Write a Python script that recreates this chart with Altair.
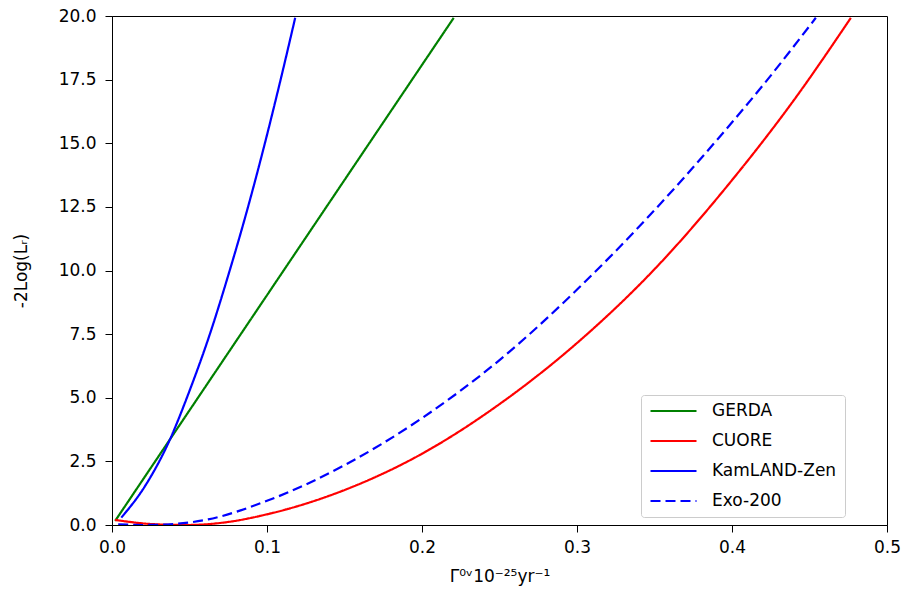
import altair as alt
import pandas as pd

series_names = ["GERDA", "CUORE", "KamLAND-Zen", "Exo-200"]
series_colors = ["#008000", "#ff0000", "#0000ff", "#0000ff"]
series_dash = [[1, 0], [1, 0], [1, 0], [10, 5]]

gerda_x = [0.002, 0.060, 0.120, 0.180, 0.2205]
gerda_y = [0.16, 5.41, 10.84, 16.27, 19.93]

cuore_x = [0.002, 0.025, 0.048, 0.075, 0.100, 0.149, 0.200, 0.250, 0.300, 0.350, 0.400, 0.440, 0.4767]
cuore_y = [0.20, 0.04, 0.00, 0.12, 0.42, 1.35, 2.80, 4.75, 7.15, 10.05, 13.55, 16.70, 19.93]

kamland_x = [0.006, 0.021, 0.0364, 0.050, 0.0633, 0.0752, 0.0865, 0.0978, 0.108, 0.1182]
kamland_y = [0.29, 1.50, 3.23, 5.27, 7.53, 9.85, 12.22, 14.80, 17.30, 19.93]

exo_x = [0.004, 0.020, 0.035, 0.062, 0.100, 0.150, 0.200, 0.2506, 0.3002, 0.3454, 0.3906, 0.4229, 0.4541]
exo_y = [0.03, 0.00, 0.02, 0.22, 0.95, 2.35, 4.20, 6.51, 9.26, 12.07, 15.15, 17.50, 19.93]

x_ticks = [0.0, 0.1, 0.2, 0.3, 0.4, 0.5]
y_ticks = [0.0, 2.5, 5.0, 7.5, 10.0, 12.5, 15.0, 17.5, 20.0]

rows = []
for name, xs, ys in [("GERDA", gerda_x, gerda_y), ("CUORE", cuore_x, cuore_y),
                     ("KamLAND-Zen", kamland_x, kamland_y), ("Exo-200", exo_x, exo_y)]:
    for i, (xv, yv) in enumerate(zip(xs, ys)):
        rows.append({"series": name, "x": xv, "y": yv, "order": i})
df = pd.DataFrame(rows)

FONT = "DejaVu Sans"

legend_common = dict(
    title=None,
    orient="none",
    legendX=529,
    legendY=379,
    symbolType="stroke",
    symbolSize=2116,
    symbolStrokeWidth=2.2,
    clipHeight=16,
    rowPadding=13,
    labelOffset=14,
    labelFontSize=17,
    labelFont=FONT,
    labelColor="#000000",
    padding=8,
    fillColor="rgba(255,255,255,0.8)",
    strokeColor="#cccccc",
    cornerRadius=3,
    labelLimit=400,
)

chart = alt.Chart(df).mark_line(strokeWidth=2.2, clip=True, interpolate="monotone").encode(
    x=alt.X("x:Q",
            scale=alt.Scale(domain=[0, 0.5], nice=False, zero=False),
            axis=alt.Axis(values=x_ticks, format=".1f", title="Γ⁰ᵛ10⁻²⁵yr⁻¹",
                          titlePadding=13)),
    y=alt.Y("y:Q",
            scale=alt.Scale(domain=[0, 20], nice=False),
            axis=alt.Axis(values=y_ticks, format=".1f", title="-2Log(Lᵣ)",
                          titlePadding=28)),
    color=alt.Color("series:N",
                    scale=alt.Scale(domain=series_names, range=series_colors),
                    legend=alt.Legend(**legend_common)),
    strokeDash=alt.StrokeDash("series:N",
                              scale=alt.Scale(domain=series_names, range=series_dash),
                              legend=alt.Legend(**legend_common)),
    order="order:Q",
).properties(
    width=775,
    height=509,
    autosize=alt.AutoSizeParams(type="none"),
    padding={"left": 112, "top": 16, "right": 17, "bottom": 66},
).configure_view(
    stroke="#000000",
    strokeWidth=1,
).configure_axis(
    grid=False,
    domainColor="#000000",
    domainWidth=1,
    tickColor="#000000",
    tickSize=7,
    tickWidth=1,
    labelFlush=False,
    labelFont=FONT,
    labelFontSize=17,
    labelColor="#000000",
    labelPadding=7,
    titleFont=FONT,
    titleFontSize=17,
    titleFontWeight="normal",
    titleColor="#000000",
).configure_axisY(
    labelPadding=9,
)

chart.save("out.html", embed_options={"renderer": "svg", "actions": False})
